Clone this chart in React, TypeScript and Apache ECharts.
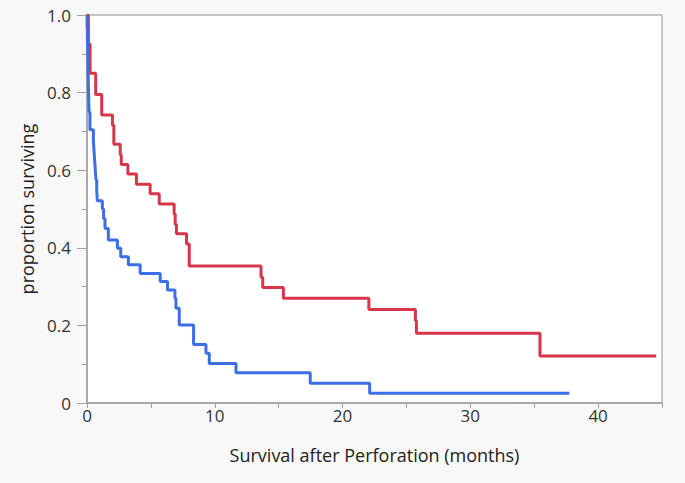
import React, { useEffect, useRef } from "react";
import * as echarts from "echarts";

// Kaplan-Meier step points: [time (months), proportion surviving after that time]
const redTimes = [0, 0.11, 0.24, 0.68, 1.15, 1.99, 2.1, 2.6, 2.68, 3.2, 3.87, 4.94, 5.65, 6.82, 6.9, 7.0, 7.79, 8.0, 13.62, 13.75, 15.37, 22.06, 25.7, 25.78, 35.45, 44.55];
const redValues = [1.0, 0.925, 0.85, 0.795, 0.742, 0.716, 0.667, 0.64, 0.615, 0.59, 0.564, 0.539, 0.513, 0.487, 0.46, 0.436, 0.41, 0.353, 0.324, 0.298, 0.27, 0.241, 0.212, 0.18, 0.121, 0.121];

const blueTimes = [0, 0.03, 0.06, 0.09, 0.12, 0.16, 0.23, 0.5, 0.55, 0.6, 0.65, 0.7, 0.76, 0.81, 1.2, 1.3, 1.41, 1.67, 2.38, 2.64, 3.24, 4.16, 5.73, 6.3, 6.88, 6.96, 7.22, 8.34, 9.31, 9.57, 11.66, 17.47, 22.12, 37.75];
const blueValues = [1.0, 0.95, 0.9, 0.85, 0.8, 0.75, 0.704, 0.675, 0.65, 0.625, 0.6, 0.575, 0.55, 0.521, 0.5, 0.475, 0.45, 0.42, 0.399, 0.377, 0.356, 0.334, 0.313, 0.291, 0.27, 0.244, 0.201, 0.151, 0.128, 0.102, 0.078, 0.051, 0.025, 0.025];

const xTitle = "Survival after Perforation (months)";
const yTitle = "proportion surviving";

const FONT = "Open Sans";

export default function App() {
  const ref = useRef<HTMLDivElement>(null);
  useEffect(() => {
    document.body.style.margin = "0";
    const chart = echarts.init(ref.current!, null, { renderer: "svg" });
    const red = redTimes.map((t, i) => [t, redValues[i]]);
    const blue = blueTimes.map((t, i) => [t, blueValues[i]]);
    chart.setOption({
      animation: false,
      backgroundColor: "#f8f8f8",
      grid: {
        left: 87,
        right: 23,
        top: 15,
        bottom: 80,
        show: true,
        backgroundColor: "#ffffff",
        borderColor: "#b4b4b4",
        borderWidth: 1.5,
      },
      xAxis: {
        type: "value",
        min: 0,
        max: 45,
        interval: 10,
        name: xTitle,
        nameLocation: "middle",
        nameGap: 43,
        nameTextStyle: { fontFamily: FONT, fontSize: 18, color: "#222" },
        axisLine: { show: true, lineStyle: { color: "#a0a0a0", width: 1.5 } },
        axisTick: { show: true, length: 5, lineStyle: { color: "#a0a0a0" } },
        minorTick: { show: true, splitNumber: 2, length: 5, lineStyle: { color: "#a0a0a0" } },
        axisLabel: { fontFamily: FONT, fontSize: 17, color: "#333", margin: 4, showMaxLabel: false },
        splitLine: { show: false },
      },
      yAxis: {
        type: "value",
        min: 0,
        max: 1,
        interval: 0.2,
        name: yTitle,
        nameLocation: "middle",
        nameGap: 51,
        nameTextStyle: { fontFamily: FONT, fontSize: 18, color: "#222" },
        axisLine: { show: true, lineStyle: { color: "#a0a0a0", width: 1.5 } },
        axisTick: { show: true, length: 10, lineStyle: { color: "#a0a0a0" } },
        minorTick: { show: true, splitNumber: 2, length: 5, lineStyle: { color: "#a0a0a0" } },
        axisLabel: {
          fontFamily: FONT,
          fontSize: 17,
          color: "#333",
          margin: 16,
          formatter: (v: number) => (v === 0 ? "0" : v.toFixed(1)),
        },
        splitLine: { show: false },
      },
      series: [
        {
          type: "line",
          step: "end",
          data: red,
          showSymbol: false,
          lineStyle: { color: "#d8344a", width: 3 },
          itemStyle: { color: "#d8344a" },
        },
        {
          type: "line",
          step: "end",
          data: blue,
          showSymbol: false,
          lineStyle: { color: "#3c6fe6", width: 3 },
          itemStyle: { color: "#3c6fe6" },
        },
      ],
    });
    return () => chart.dispose();
  }, []);
  return <div ref={ref} style={{ width: 685, height: 483 }} />;
}
